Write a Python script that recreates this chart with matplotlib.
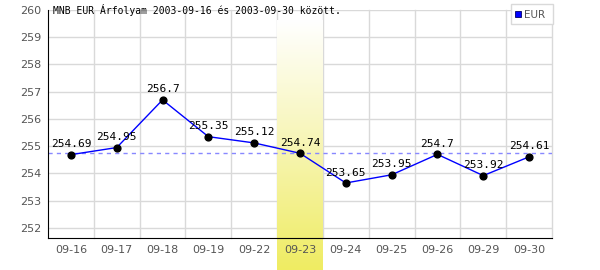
import numpy as np
import matplotlib
matplotlib.use("Agg")
import matplotlib.pyplot as plt
from matplotlib.patches import Rectangle
from matplotlib.colors import LinearSegmentedColormap
from matplotlib.transforms import blended_transform_factory

dates = ["09-16", "09-17", "09-18", "09-19", "09-22", "09-23",
         "09-24", "09-25", "09-26", "09-29", "09-30"]
eur = [254.69, 254.95, 256.7, 255.35, 255.12, 254.74,
       253.65, 253.95, 254.7, 253.92, 254.61]
value_labels = ["254.69", "254.95", "256.7", "255.35", "255.12", "254.74",
                "253.65", "253.95", "254.7", "253.92", "254.61"]
yticks = [252, 253, 254, 255, 256, 257, 258, 259, 260]
highlight = "09-23"
title = "MNB EUR Árfolyam 2003-09-16 és 2003-09-30 között."

W, H = 600, 270
fig = plt.figure(figsize=(W / 100, H / 100), dpi=100)
fig.patch.set_facecolor("white")
ax = fig.add_axes([48 / W, (H - 238) / H, (552 - 48) / W, (238 - 10) / H])
ax.set_facecolor("white")

x = np.arange(len(dates))
ax.set_xlim(-0.5, len(dates) - 0.5)
ax.set_ylim(251.63, 260.0)

# gridlines
for b in np.arange(0.5, len(dates) - 0.5 + 1, 1.0):
    ax.axvline(b, color="#d9d9d9", lw=1.0, zorder=1, clip_on=False)
for t in yticks:
    ax.axhline(t, color="#d9d9d9", lw=1.0, zorder=1)

# highlight band with gradient (extends below the axes to the figure bottom)
hi = dates.index(highlight)
cmap = LinearSegmentedColormap.from_list("hl", ["#ffffff", "#f7f5b4", "#efec62"])
grad = np.linspace(0, 1, 256).reshape(-1, 1)
band_top_px = 20
trans = blended_transform_factory(ax.transData, fig.transFigure)
ax.imshow(grad, cmap=cmap, aspect="auto", origin="upper",
          extent=[hi - 0.5, hi + 0.5, 0.0, 1 - band_top_px / H],
          transform=trans, zorder=1.5, clip_on=False)

# mean line
mean_val = float(np.mean(eur))
ax.axhline(mean_val, color="#8888ff", lw=1.0, ls=(0, (3, 3)), zorder=2)

# series
ax.plot(x, eur, color="#0000ff", lw=1.0, zorder=3)
ax.scatter(x, eur, s=24, color="black", zorder=4)
for xi, yi, lab in zip(x, eur, value_labels):
    ax.text(xi, yi + 0.2, lab, ha="center", va="bottom",
            family="DejaVu Sans Mono", fontsize=8, color="black", zorder=5)

# axes styling
for s in ["top", "right"]:
    ax.spines[s].set_visible(False)
ax.spines["left"].set_color("black")
ax.spines["bottom"].set_color("black")
ax.spines["left"].set_zorder(6)
ax.spines["bottom"].set_zorder(6)
ax.set_xticks(x)
ax.set_xticklabels(dates)
ax.set_yticks(yticks)
ax.tick_params(axis="both", length=0, labelsize=8, labelcolor="#555555")
ax.tick_params(axis="x", pad=5)
ax.tick_params(axis="y", pad=5)

# title
fig.text(53 / W, 1 - 10 / H, title, family="DejaVu Sans Mono", fontsize=7,
         color="black", ha="left", va="center")

# legend
lx0, ly0, lx1, ly1 = 511, 4, 553, 24
fig.patches.append(Rectangle((lx0 / W, 1 - ly1 / H), (lx1 - lx0) / W, (ly1 - ly0) / H,
                             transform=fig.transFigure, facecolor="white",
                             edgecolor="#d9d9d9", lw=1.0, zorder=10))
fig.patches.append(Rectangle((515 / W, 1 - 17 / H), 6 / W, 6 / H,
                             transform=fig.transFigure, facecolor="#0000ff",
                             edgecolor="#000066", lw=0.6, zorder=11))
fig.text(524 / W, 1 - 14.5 / H, "EUR", fontsize=7.5, color="#555555",
         ha="left", va="center", zorder=12)

fig.savefig("out.png", dpi=100)
